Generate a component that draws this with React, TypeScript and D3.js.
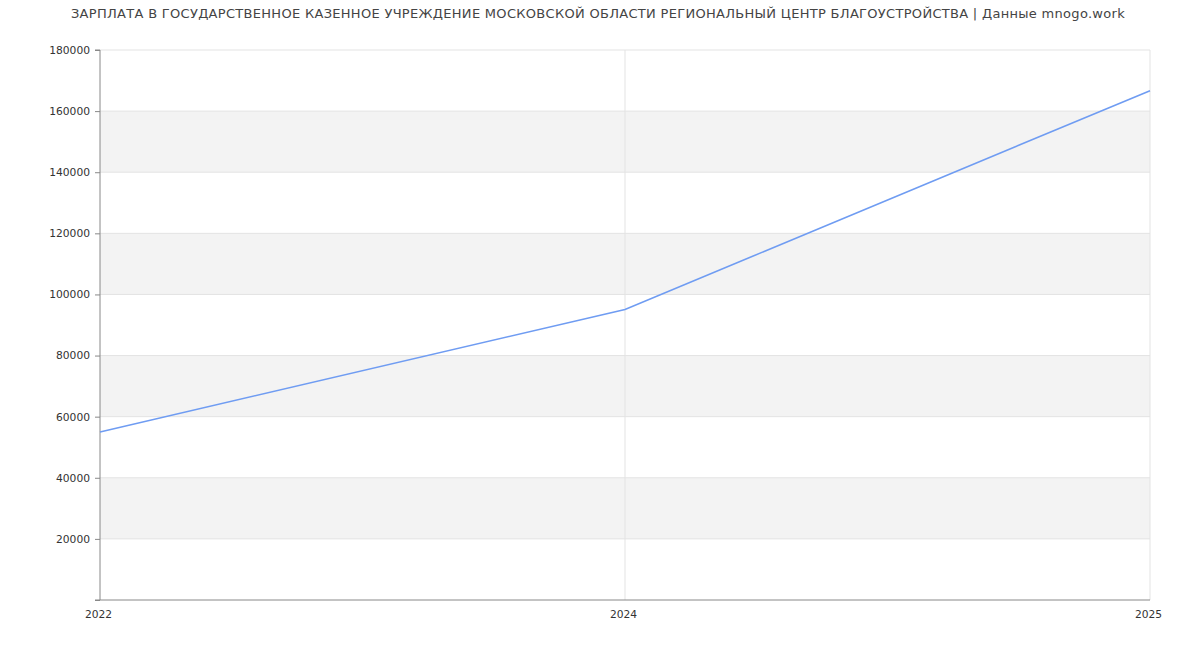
import { useEffect, useRef } from "react";
import * as d3 from "d3";

const width = 1200;
const height = 650;
const margin = { top: 50, right: 50, bottom: 50, left: 100 };

const chartTitle =
  "ЗАРПЛАТА В ГОСУДАРСТВЕННОЕ КАЗЕННОЕ УЧРЕЖДЕНИЕ МОСКОВСКОЙ ОБЛАСТИ РЕГИОНАЛЬНЫЙ ЦЕНТР БЛАГОУСТРОЙСТВА | Данные mnogo.work";

const years = ["2022", "2024", "2025"];
const salaries = [55000, 95100, 166700];
const yTicks = [20000, 40000, 60000, 80000, 100000, 120000, 140000, 160000, 180000];

const lineColor = "#6f9cf2";
const font = "'DejaVu Sans', sans-serif";

export default function App() {
  const svgRef = useRef<SVGSVGElement | null>(null);

  useEffect(() => {
    if (!svgRef.current) return;
    const svg = d3.select(svgRef.current);
    svg.selectAll("*").remove();

    const x = d3
      .scalePoint<string>()
      .domain(years)
      .range([margin.left, width - margin.right]);

    const y = d3
      .scaleLinear()
      .domain([0, 180000])
      .range([height - margin.bottom, margin.top]);

    // 交替的灰色色帶（20000-40000, 60000-80000 ...）
    const bands = d3
      .range(0, yTicks.length - 1, 2)
      .map((i) => [yTicks[i], yTicks[i + 1]]);
    svg
      .append("g")
      .selectAll("rect")
      .data(bands)
      .join("rect")
      .attr("x", margin.left)
      .attr("width", width - margin.left - margin.right)
      .attr("y", (d) => y(d[1]))
      .attr("height", (d) => y(d[0]) - y(d[1]))
      .attr("fill", "#f3f3f3");

    // 水平格線
    svg
      .append("g")
      .selectAll("line")
      .data(yTicks)
      .join("line")
      .attr("x1", margin.left)
      .attr("x2", width - margin.right)
      .attr("y1", (d) => y(d))
      .attr("y2", (d) => y(d))
      .attr("stroke", "#e3e3e3");

    // 垂直格線
    svg
      .append("g")
      .selectAll("line")
      .data(years.slice(1))
      .join("line")
      .attr("x1", (d) => x(d) ?? 0)
      .attr("x2", (d) => x(d) ?? 0)
      .attr("y1", margin.top)
      .attr("y2", height - margin.bottom)
      .attr("stroke", "#e3e3e3");

    // y 軸
    const yAxis = svg
      .append("g")
      .attr("transform", `translate(${margin.left},0)`)
      .call(
        d3
          .axisLeft(y)
          .tickValues([0, ...yTicks])
          .tickSize(5)
          .tickPadding(5)
          .tickFormat((d) => (d === 0 ? "" : String(d))),
      );
    yAxis.select(".domain").attr("stroke", "#888").attr("d", `M-5,${y(0)}H0V${y(180000)}H-5`);
    yAxis.selectAll(".tick line").attr("stroke", "#888");
    yAxis
      .selectAll("text")
      .attr("fill", "#333")
      .style("font-family", font)
      .style("font-size", "10.7px");

    // x 軸
    const xAxis = svg
      .append("g")
      .attr("transform", `translate(0,${height - margin.bottom})`)
      .call(d3.axisBottom(x).tickSize(0).tickPadding(10));
    xAxis.select(".domain").attr("stroke", "#888").attr("d", `M${margin.left},0H${width - margin.right}`);
    xAxis
      .selectAll("text")
      .attr("fill", "#333")
      .attr("dx", "-2")
      .style("font-family", font)
      .style("font-size", "10.7px");

    // 折線
    const line = d3
      .line<number>()
      .x((_, i) => x(years[i]) ?? 0)
      .y((d) => y(d));

    svg
      .append("path")
      .datum(salaries)
      .attr("fill", "none")
      .attr("stroke", lineColor)
      .attr("stroke-width", 1.6)
      .attr("d", line);

    // 標題
    svg
      .append("text")
      .attr("x", 598)
      .attr("y", 18)
      .attr("text-anchor", "middle")
      .attr("fill", "#444")
      .style("font-family", font)
      .style("font-size", "13px")
      .style("letter-spacing", "0.3px")
      .text(chartTitle);
  }, []);

  return (
    <div style={{ position: "absolute", left: 0, top: 0, background: "#fff" }}>
      <svg ref={svgRef} width={width} height={height} />
    </div>
  );
}
